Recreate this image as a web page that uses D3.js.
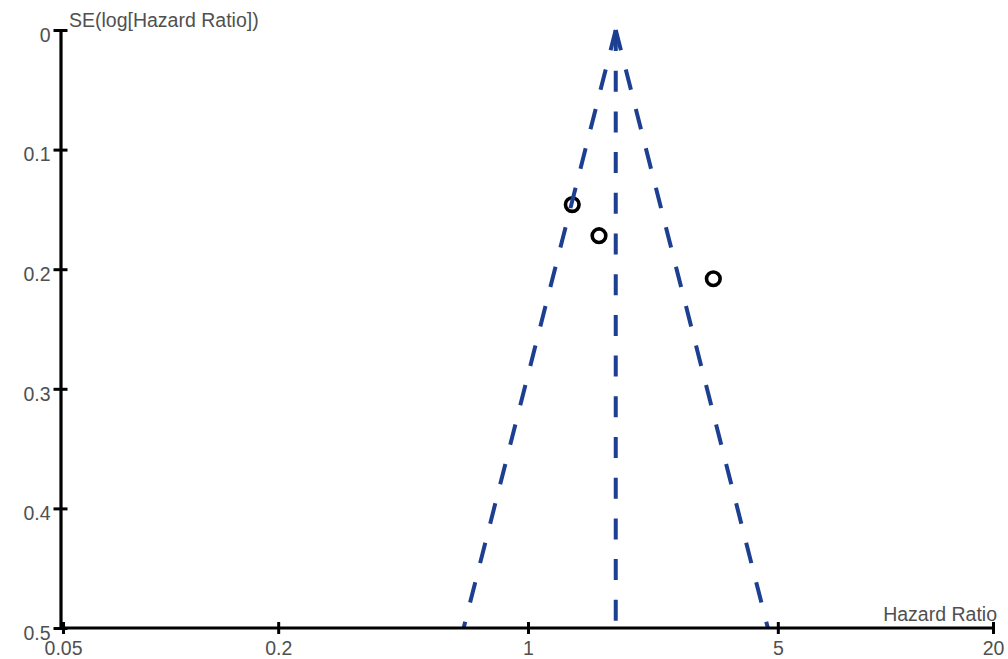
<!DOCTYPE html>
<html>
<head>
<meta charset="utf-8">
<script src="https://cdn.jsdelivr.net/npm/d3@7"></script>
<style>
  html, body { margin: 0; padding: 0; background: #fff; }
  svg text { font-family: "Liberation Sans", Arial, sans-serif; }
</style>
</head>
<body>
<svg id="chart"></svg>
<script>
// study estimates
const hazardRatios = [1.33, 1.58, 3.30];
const standardErrors = [0.146, 0.172, 0.208];
const pooledHR = 1.76;
const seLimits = [0, 0.5];
const xTicks = [0.05, 0.2, 1, 5, 20];
const xTickLabels = ["0.05", "0.2", "1", "5", "20"];
const yTicks = [0, 0.1, 0.2, 0.3, 0.4, 0.5];
const yTickLabels = ["0", "0.1", "0.2", "0.3", "0.4", "0.5"];

const width = 1008;
const height = 659;
const axisX = 60.5;
const blue = "#1d3f91";
const textColor = "#505050";
const fontSize = 19.5;

const svg = d3.select("#chart")
  .attr("width", width)
  .attr("height", height)
  .attr("viewBox", `0 0 ${width} ${height}`);

const x = d3.scaleLog().domain([0.05, 20]).range([63, 993]);
const y = d3.scaleLinear().domain(seLimits).range([30, 628]);

// points
svg.append("g")
  .selectAll("circle")
  .data(hazardRatios.map((hr, i) => ({ hr, se: standardErrors[i] })))
  .join("circle")
  .attr("cx", d => x(d.hr))
  .attr("cy", d => y(d.se))
  .attr("r", 6.8)
  .attr("fill", "none")
  .attr("stroke", "#000")
  .attr("stroke-width", 3.6);

// funnel: pooled line and 95% limits
const z = 1.96;
const line = d3.line().x(d => x(d[0])).y(d => y(d[1]));
const funnel = [
  seLimits.map(se => [pooledHR * Math.exp(-z * se), se]),
  seLimits.map(se => [pooledHR, se]),
  seLimits.map(se => [pooledHR * Math.exp(z * se), se])
];
svg.append("g")
  .selectAll("path")
  .data(funnel)
  .join("path")
  .attr("d", line)
  .attr("fill", "none")
  .attr("stroke", blue)
  .attr("stroke-width", 4)
  .attr("stroke-dasharray", "21,19.7");

// y axis
const yAxis = svg.append("g")
  .attr("transform", `translate(${axisX},0)`)
  .call(d3.axisLeft(y).tickValues(yTicks).tickFormat((d, i) => yTickLabels[i]).tickSize(7).tickSizeOuter(0));
yAxis.select(".domain").attr("stroke", "#000").attr("stroke-width", 3.2);
yAxis.selectAll(".tick line").attr("x1", -7).attr("x2", 7).attr("stroke", "#000").attr("stroke-width", 3);
yAxis.selectAll(".tick text")
  .attr("x", -10)
  .attr("dy", "0.58em")
  .attr("fill", textColor)
  .attr("font-size", fontSize)
  .attr("font-family", null);

// x axis
const xAxis = svg.append("g")
  .attr("transform", `translate(0,${y(0.5)})`)
  .call(d3.axisBottom(x).tickValues(xTicks).tickFormat((d, i) => xTickLabels[i]).tickSize(6).tickSizeOuter(0));
xAxis.select(".domain").attr("stroke", "#000").attr("stroke-width", 3.2)
  .attr("d", `M${axisX},0H${x(20)}`);
xAxis.selectAll(".tick line").attr("y1", -6).attr("y2", 6).attr("stroke", "#000").attr("stroke-width", 3);
xAxis.selectAll(".tick text")
  .attr("y", 13)
  .attr("dy", "0.71em")
  .attr("fill", textColor)
  .attr("font-size", fontSize)
  .attr("font-family", null);

// axis titles
svg.append("text")
  .attr("x", 69)
  .attr("y", 27)
  .attr("fill", textColor)
  .attr("font-size", fontSize)
  .text("SE(log[Hazard Ratio])");

svg.append("text")
  .attr("x", 997)
  .attr("y", 621)
  .attr("text-anchor", "end")
  .attr("fill", textColor)
  .attr("font-size", fontSize)
  .text("Hazard Ratio");
</script>
</body>
</html>
